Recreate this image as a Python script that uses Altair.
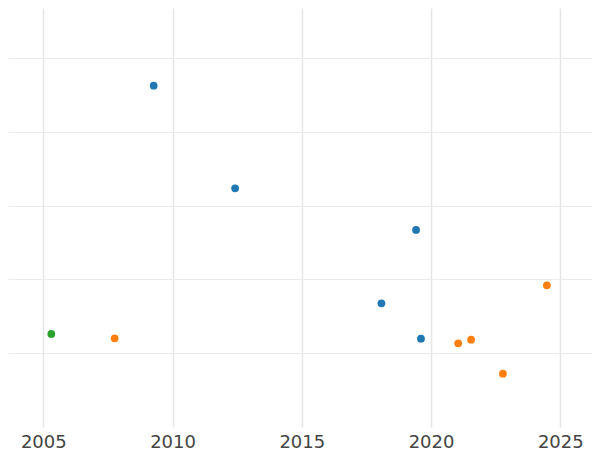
import altair as alt
import pandas as pd

# Series values
blue_year = [2009.27, 2012.42, 2019.42, 2018.08, 2019.61]
blue_value = [46.25, 32.35, 26.7, 16.77, 11.98]

orange_year = [2007.76, 2021.05, 2021.55, 2022.78, 2024.48]
orange_value = [12.03, 11.35, 11.84, 7.24, 19.21]

green_year = [2005.31]
green_value = [12.61]

series_names = ["Series A", "Series B", "Series C"]
series_colors = ["#1f77b4", "#ff7f0e", "#2ca02c"]

x_ticks = [2005, 2010, 2015, 2020, 2025]
y_grid = [10, 20, 30, 40, 50]

rows = []
for name, xs, ys in [
    (series_names[0], blue_year, blue_value),
    (series_names[1], orange_year, orange_value),
    (series_names[2], green_year, green_value),
]:
    for xv, yv in zip(xs, ys):
        rows.append({"year": xv, "value": yv, "series": name})
df = pd.DataFrame(rows)

chart = (
    alt.Chart(df)
    .mark_circle(size=60, opacity=1)
    .encode(
        x=alt.X(
            "year:Q",
            scale=alt.Scale(domain=[2003.634, 2026.226], nice=False, zero=False),
            axis=alt.Axis(
                values=x_ticks,
                format="d",
                title=None,
                ticks=False,
                domain=False,
                labelPadding=6,
                labelFontSize=18,
                labelFont="DejaVu Sans",
                labelColor="#444444",
                gridColor="#e6e6e6",
                gridWidth=1.5,
            ),
        ),
        y=alt.Y(
            "value:Q",
            scale=alt.Scale(domain=[0.01, 56.773], nice=False, zero=False),
            axis=alt.Axis(
                values=y_grid,
                title=None,
                labels=False,
                ticks=False,
                domain=False,
                gridColor="#ebebeb",
                gridWidth=1,
            ),
        ),
        color=alt.Color(
            "series:N",
            scale=alt.Scale(domain=series_names, range=series_colors),
            legend=None,
        ),
    )
    .properties(width=584, height=419, padding=0)
    .configure_view(strokeWidth=0)
)

chart.save("out.html", embed_options={"renderer": "svg", "actions": False})
